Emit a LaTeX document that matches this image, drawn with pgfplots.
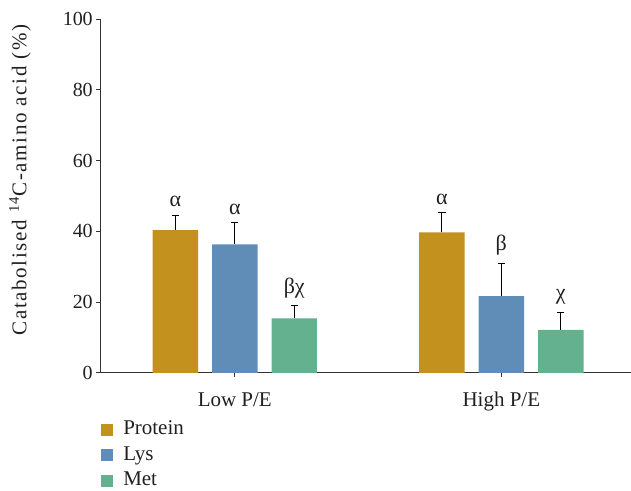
\documentclass[border=0pt]{standalone}
\usepackage{pgfplots}
\pgfplotsset{compat=1.18}
\usepackage{fontspec}
\setmainfont{Liberation Serif}
\newfontfamily\labfont[LetterSpace=8]{Liberation Serif}
\definecolor{cprot}{RGB}{194,145,30}
\definecolor{clys}{RGB}{96,141,184}
\definecolor{cmet}{RGB}{99,177,143}
\definecolor{axc}{RGB}{50,50,50}
\definecolor{txt}{RGB}{35,31,32}

\pgfplotsset{lbl/.style={
  forget plot, draw=none, fill=none,
  nodes near coords,
  point meta=explicit symbolic,
  every node near coord/.append style={font=\fontsize{22}{24}\selectfont, text=txt, anchor=south, inner sep=0pt, yshift=8pt},
}}

\begin{document}
\fontsize{20}{24}\selectfont
\begin{tikzpicture}
\begin{axis}[
  name=ax,
  scale only axis,
  width=530.5pt,
  y=3.54pt,
  ymin=0, ymax=100,
  xmin=-0.504, xmax=1.485,
  ybar, bar width=45.5pt,
  axis x line=bottom, axis y line=left,
  axis line style={-, axc, line width=0.8pt},
  xtick={0,1}, xticklabels={Low P/E, High P/E},
  ytick={0,20,40,60,80,100},
  tick style={axc, line width=0.8pt},
  major tick length=4pt,
  tick align=outside,
  xtick pos=bottom, ytick pos=left,
  /pgf/number format/assume math mode=true,
  yticklabel style={font=\fontsize{20}{24}\selectfont, text=txt, anchor=east, inner sep=0pt, xshift=-3.5pt},
  xticklabel style={font=\fontsize{21}{24}\selectfont, text=txt, anchor=base, inner sep=0pt, yshift=-29.5pt},
  ylabel={Catabolised \textsuperscript{14}C-amino acid (\%)},
  ylabel style={font=\labfont\fontsize{21}{24}\selectfont, text=txt,
    at={(axis description cs:-0.1517,0.545)}, anchor=center, inner sep=0pt},
  legend style={at={(axis description cs:0.001,-0.1328)}, anchor=north west, draw=none, fill=none,
    inner sep=0pt, outer sep=0pt,
    nodes={inner sep=0pt, text height=15pt, text depth=5pt},
    font=\fontsize{21}{24}\selectfont, row sep=5.5pt, column sep=0pt, text=txt},
  legend cell align=left,
  legend image code/.code={\path (0pt,0pt) (22.3pt,0pt); \fill[#1] (0pt,-5.85pt) rectangle (11.7pt,5.85pt);},
]
\addplot[fill=cprot, draw=none, bar shift=-59.5pt,
  error bars/.cd, y dir=plus, y explicit,
  error bar style={black, line width=1pt},
  error mark options={rotate=90, mark size=3.7pt, line width=1pt, black}]
  coordinates {(0,40.3) +- (0,4.2) (1,39.7) +- (0,5.6)};
\addplot[fill=clys, draw=none, bar shift=0pt,
  error bars/.cd, y dir=plus, y explicit,
  error bar style={black, line width=1pt},
  error mark options={rotate=90, mark size=3.7pt, line width=1pt, black}]
  coordinates {(0,36.3) +- (0,6.1) (1,21.7) +- (0,9.3)};
\addplot[fill=cmet, draw=none, bar shift=59.5pt,
  error bars/.cd, y dir=plus, y explicit,
  error bar style={black, line width=1pt},
  error mark options={rotate=90, mark size=3.7pt, line width=1pt, black}]
  coordinates {(0,15.4) +- (0,3.5) (1,12.1) +- (0,4.9)};
\addplot[lbl, bar shift=-59.5pt] coordinates {(0,44.5) [α] (1,45.3) [α]};
\addplot[lbl, bar shift=0pt] coordinates {(0,42.4) [α] (1,31.0) [β]};
\addplot[lbl, bar shift=59.5pt] coordinates {(0,18.9) [βχ] (1,17.0) [χ]};
\legend{Protein, Lys, Met}
\end{axis}
\path ([shift={(-100.5pt,-117pt)}]ax.south west) rectangle ([shift={(0pt,19pt)}]ax.north east);
\end{tikzpicture}
\end{document}
